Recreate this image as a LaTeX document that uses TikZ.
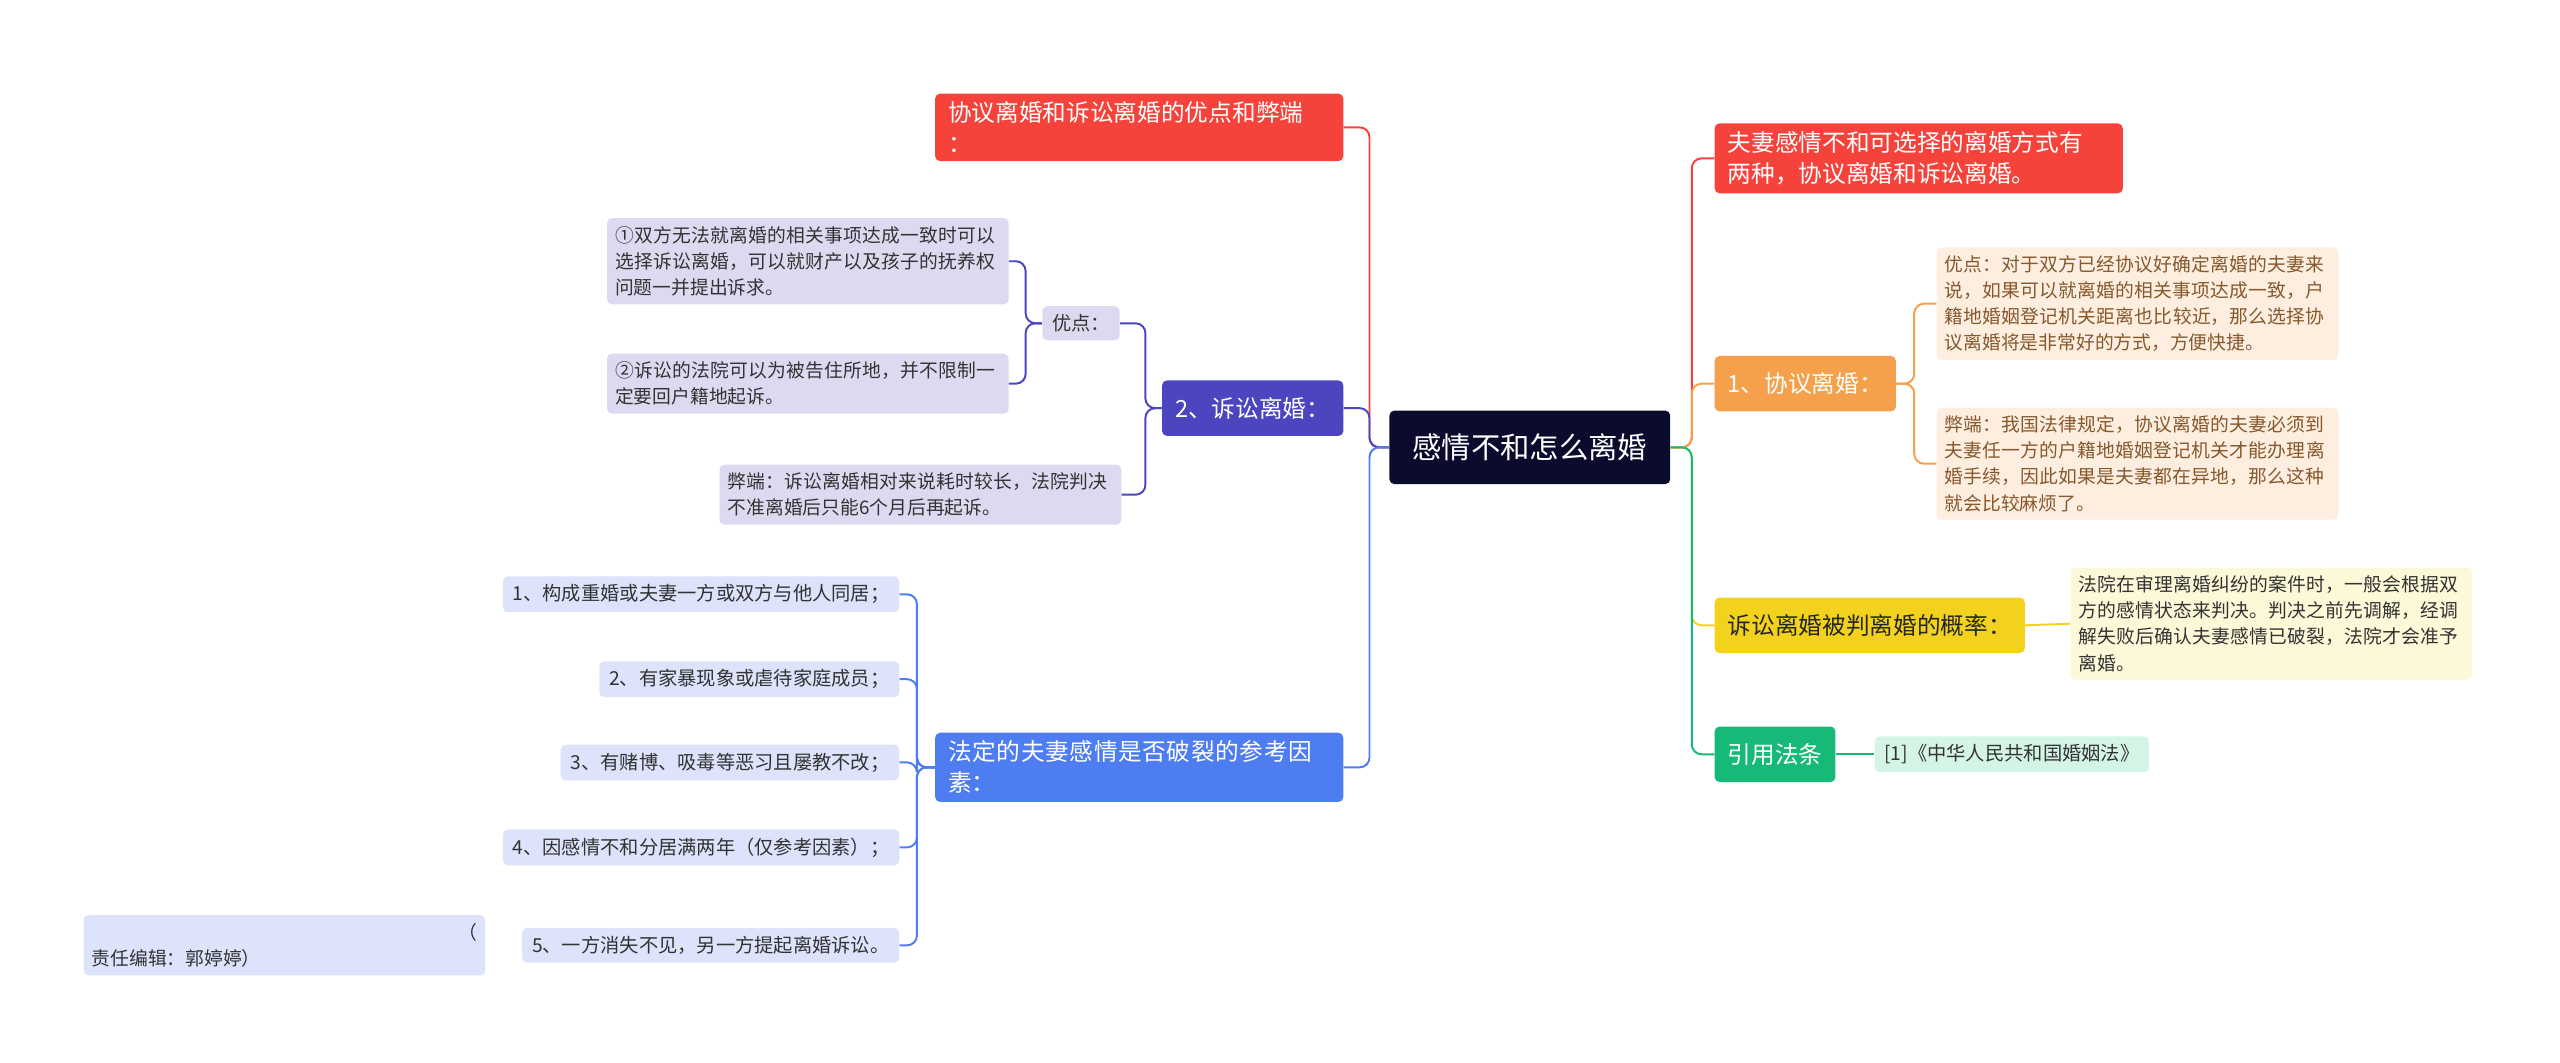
\documentclass[tikz,border=0pt]{standalone}
\usepackage{fontspec}
\setmainfont{Noto Sans CJK SC}
\XeTeXlinebreaklocale "zh"
\XeTeXlinebreakskip=0pt plus 1pt
\usetikzlibrary{positioning}
\definecolor{rootc}{HTML}{0B0B2E}
\definecolor{redc}{HTML}{F5433B}
\definecolor{orac}{HTML}{F5A04A}
\definecolor{orl}{HTML}{FDEEE0}
\definecolor{yelc}{HTML}{F2D21C}
\definecolor{yell}{HTML}{FDF8D8}
\definecolor{grnc}{HTML}{17B978}
\definecolor{grnl}{HTML}{D4F4E6}
\definecolor{purc}{HTML}{4B45C0}
\definecolor{purl}{HTML}{DCDAF0}
\definecolor{bluc}{HTML}{4E7DF1}
\definecolor{blul}{HTML}{DCE3FB}
\tikzset{
  box/.style={rounded corners=3pt, inner sep=5pt, align=left},
  rootbox/.style={box, fill=rootc, text=white, font=\fontsize{18}{22}\selectfont, minimum height=45pt, inner xsep=14pt},
  branch/.style={box, text=white, font=\fontsize{14.5}{19}\selectfont, minimum height=34pt, inner xsep=8pt},
  leaf/.style={box, font=\fontsize{11.8}{16}\selectfont, text=black!80, inner xsep=6pt},
  para/.style={leaf, font=\fontsize{11.5}{16}\selectfont, inner xsep=5pt, text width=236pt}
}
\tikzset{link/.style={line width=1.2pt, rounded corners=6pt}}
\begin{document}
\begin{tikzpicture}[x=1pt,y=-1pt]
  \useasboundingbox (0,0) rectangle (1568,651);
  % root
  \node[rootbox] (root) at (937,274) {感情不和怎么离婚};
  % right side
  \node[branch, fill=redc, anchor=west, text width=234pt] (way) at (1050,97) {夫妻感情不和可选择的离婚方式有\\两种，协议离婚和诉讼离婚。};
  \node[branch, fill=orac, anchor=west] (agree) at (1050,235) {1、协议离婚：};
  \node[para, fill=orl, text=brown!70!black, anchor=west] (agreepro) at (1186,186) {优点：对于双方已经协议好确定离婚的夫妻来说，如果可以就离婚的相关事项达成一致，户籍地婚姻登记机关距离也比较近，那么选择协议离婚将是非常好的方式，方便快捷。};
  \node[para, fill=orl, text=brown!70!black, anchor=west] (agreecon) at (1186,284) {弊端：我国法律规定，协议离婚的夫妻必须到夫妻任一方的户籍地婚姻登记机关才能办理离婚手续，因此如果是夫妻都在异地，那么这种就会比较麻烦了。};
  \node[branch, fill=yelc, text=black!85, anchor=west] (rate) at (1050,383) {诉讼离婚被判离婚的概率：};
  \node[para, fill=yell, anchor=west] (ratetxt) at (1268,382) {法院在审理离婚纠纷的案件时，一般会根据双方的感情状态来判决。判决之前先调解，经调解失败后确认夫妻感情已破裂，法院才会准予离婚。};
  \node[branch, fill=grnc, anchor=west] (law) at (1050,462) {引用法条};
  \node[leaf, fill=grnl, anchor=west] (lawtxt) at (1148,462) {[1]《中华人民共和国婚姻法》};
  % left side
  \node[branch, fill=redc, anchor=east, text width=234pt] (cmp) at (823,78) {协议离婚和诉讼离婚的优点和弊端\\：};
  \node[branch, fill=purc, anchor=east] (sue) at (823,250) {2、诉讼离婚：};
  \node[leaf, fill=purl, anchor=east] (suepro) at (686,198) {优点：};
  \node[para, fill=purl, anchor=east] (suepro1) at (618,160) {①双方无法就离婚的相关事项达成一致时可以选择诉讼离婚，可以就财产以及孩子的抚养权问题一并提出诉求。};
  \node[para, fill=purl, anchor=east] (suepro2) at (618,235) {②诉讼的法院可以为被告住所地，并不限制一定要回户籍地起诉。};
  \node[para, fill=purl, anchor=east] (suecon) at (687,303) {弊端：诉讼离婚相对来说耗时较长，法院判决不准离婚后只能6个月后再起诉。};
  \node[branch, fill=bluc, anchor=east, text width=234pt] (fact) at (823,470) {法定的夫妻感情是否破裂的参考因素：};
  \node[leaf, fill=blul, anchor=east] (f1) at (551,364) {1、构成重婚或夫妻一方或双方与他人同居；};
  \node[leaf, fill=blul, anchor=east] (f2) at (551,416) {2、有家暴现象或虐待家庭成员；};
  \node[leaf, fill=blul, anchor=east] (f3) at (551,467) {3、有赌博、吸毒等恶习且屡教不改；};
  \node[leaf, fill=blul, anchor=east] (f4) at (551,519) {4、因感情不和分居满两年（仅参考因素）；};
  \node[leaf, fill=blul, anchor=east] (f5) at (551,579) {5、一方消失不见，另一方提起离婚诉讼。};
  \node[para, fill=blul, anchor=west] (editor) at (51,579) {\hfill（\\责任编辑：郭婷婷）};
  % connectors right
  \draw[link, redc] (root.east) -- ++(13,0) |- (way.west);
  \draw[link, orac] (root.east) -- ++(13,0) |- (agree.west);
  \draw[link, yelc] (root.east) -- ++(13,0) |- (rate.west);
  \draw[link, grnc] (root.east) -- ++(13,0) |- (law.west);
  \foreach \n in {agreepro, agreecon}
    \draw[link, orac] (agree.east) -- ++(11,0) |- (\n.west);
  \draw[link, yelc] (rate.east) -- (ratetxt.west);
  \draw[link, grnc] (law.east) -- (lawtxt.west);
  % connectors left
  \draw[link, redc] (root.west) -- ++(-12,0) |- (cmp.east);
  \draw[link, purc] (root.west) -- ++(-12,0) |- (sue.east);
  \draw[link, bluc] (root.west) -- ++(-12,0) |- (fact.east);
  \foreach \n in {suepro, suecon}
    \draw[link, purc] (sue.west) -- ++(-10,0) |- (\n.east);
  \foreach \n in {suepro1, suepro2}
    \draw[link, purc] (suepro.west) -- ++(-10,0) |- (\n.east);
  \foreach \n in {f1, f2, f3, f4, f5}
    \draw[link, bluc] (fact.west) -- ++(-11,0) |- (\n.east);
\end{tikzpicture}
\end{document}
